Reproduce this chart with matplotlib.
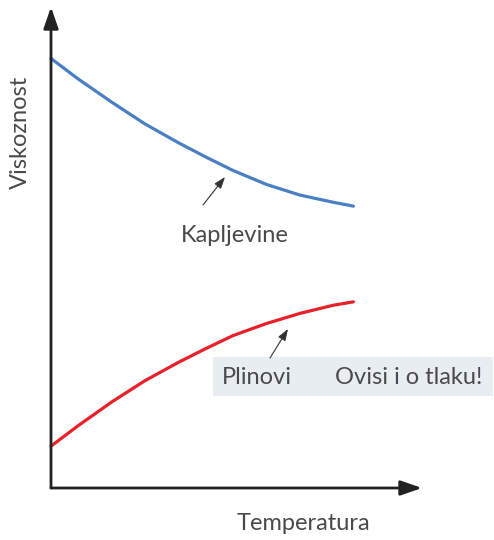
import matplotlib.pyplot as plt
from matplotlib.patches import Rectangle

# ocitane tocke krivulja (temperatura, viskoznost) u proizvoljnim jedinicama
temp = [0.0, 0.74, 1.64, 2.53, 3.43, 4.15, 4.91, 5.81, 6.71, 7.61, 8.15]
visk_kaplj = [8.93, 8.50, 8.02, 7.57, 7.18, 6.89, 6.60, 6.31, 6.09, 5.94, 5.86]
visk_plin = [0.87, 1.30, 1.79, 2.23, 2.61, 2.89, 3.17, 3.42, 3.63, 3.80, 3.87]

txt_col = '#4a4a4a'
plt.rcParams['font.family'] = ['Lato', 'DejaVu Sans']

fig = plt.figure(figsize=(4.94, 5.40), dpi=100)
# okvir osi: lijevo 51 px, dolje 488 px, desno 422 px, gore 7 px
ax = fig.add_axes([51/494, (540-488)/540, (422-51)/494, (488-7)/540])
ax.set_xlim(0, 10)
ax.set_ylim(0, 10)
ax.axis('off')

ax.plot(temp, visk_kaplj, color='#4a7fc4', lw=2.3, solid_capstyle='round',
        solid_joinstyle='round', clip_on=False)
ax.plot(temp, visk_plin, color='#e8202a', lw=2.3, solid_capstyle='round',
        solid_joinstyle='round', clip_on=False)

# osi sa strelicama
arr = dict(arrowstyle='-|>,head_length=1.3,head_width=0.45', color='#222222', lw=2.0,
           shrinkA=0, shrinkB=0)
ax.annotate('', xy=(0, 1), xytext=(0, 0), xycoords='axes fraction', arrowprops=arr)
ax.annotate('', xy=(1, 0), xytext=(0, 0), xycoords='axes fraction', arrowprops=arr)

px = lambda v: (v - 51) / 37.1
py = lambda v: (488 - v) / 48.1

ax.text(px(20), py(132), 'Viskoznost', rotation=90, ha='center', va='center',
        fontsize=17, color=txt_col, clip_on=False)
ax.text(px(303), py(524), 'Temperatura', ha='center', va='center',
        fontsize=17, color=txt_col, clip_on=False)

# oznake
small = dict(arrowstyle='-|>,head_length=0.7,head_width=0.25', color='#333333', lw=0.8,
             shrinkA=0, shrinkB=0)
ax.annotate('', xy=(px(225), py(177)), xytext=(px(203), py(205)), arrowprops=small)
ax.text(px(235), py(235), 'Kapljevine', ha='center', va='center',
        fontsize=17, color=txt_col)

ax.add_patch(Rectangle((px(213), py(396)), (493-213)/37.1, 39/48.1,
                       facecolor='#e7edf1', edgecolor='none', clip_on=False, zorder=0))
ax.annotate('', xy=(px(288), py(329)), xytext=(px(270), py(358)), arrowprops=small)
ax.text(px(222), py(378), 'Plinovi', ha='left', va='center',
        fontsize=17, color=txt_col, clip_on=False)
ax.text(px(335), py(378), 'Ovisi i o tlaku!', ha='left', va='center',
        fontsize=17, color=txt_col, clip_on=False)

fig.savefig('out.png', dpi=100)
